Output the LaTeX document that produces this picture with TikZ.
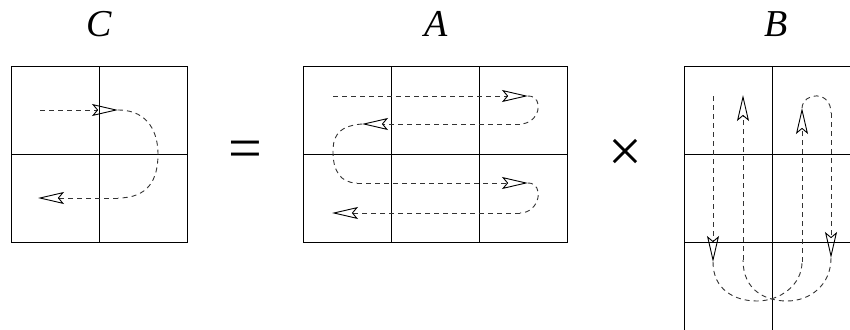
\documentclass[tikz,border=0pt]{standalone}
\usepackage{fontspec}
\setmainfont{Liberation Serif}
\usetikzlibrary{arrows.meta}
\begin{document}
\begin{tikzpicture}[x=1pt,y=-1pt,
  grid/.style={line width=1pt},
  flow/.style={dash pattern=on 5pt off 4pt, line width=0.9pt, black!80},
  tip/.style={-{Stealth[open,length=26pt,width=12pt,inset=5pt,black,line width=0.9pt]}},
  lbl/.style={font=\fontsize{38}{38}\selectfont\itshape, inner sep=0pt},
  sym/.style={font=\fontsize{60}{60}\selectfont, inner sep=0pt}]
\useasboundingbox (0,0) rectangle (850,329);
% labels
\node[lbl] (labC) at (99,24) {C};
\node[lbl] (labA) at (436,24) {A};
\node[lbl] (labB) at (776,24) {B};
\node[sym] (eq) at (245,155) {=};
\node[sym] (times) at (625,155) {×};
% C grid
\draw[grid] (11,66) rectangle (187,242);
\draw[grid] (99,66) -- (99,242) (11,154) -- (187,154);
% A grid
\draw[grid] (303,66) rectangle (567,242);
\draw[grid] (391,66) -- (391,242) (479,66) -- (479,242) (303,154) -- (567,154);
% B grid
\begin{scope}
\clip (0,0) rectangle (850,329);
\draw[grid] (684,66) rectangle (860,330);
\draw[grid] (772,66) -- (772,330) (684,154) -- (860,154) (684,242) -- (860,242);
\end{scope}
% C flow
\draw[flow,tip] (40,110) -- (118,110);
\draw[flow] (118,110) .. controls (150,110) and (158,135) .. (158,154) .. controls (158,180) and (148,198) .. (118,198);
\draw[flow,tip] (118,198) -- (38,198);
% A flow
\draw[flow,tip] (333,96) -- (528,96);
\draw[flow] (528,96) .. controls (545,96) and (540,124) .. (520,124);
\draw[flow,tip] (520,124) -- (362,124);
\draw[flow] (362,124) .. controls (335,126) and (333,140) .. (333,152) .. controls (333,170) and (340,183) .. (357,183);
\draw[flow,tip] (357,183) -- (528,183);
\draw[flow] (528,183) .. controls (545,183) and (540,213) .. (520,213);
\draw[flow,tip] (520,213) -- (332,213);
% B flow
\draw[flow,tip] (713,96) -- (713,262);
\draw[flow] (713,262) .. controls (713,290) and (735,301) .. (757,301) .. controls (780,301) and (802,285) .. (802,262);
\draw[flow,tip] (802,262) -- (802,108);
\draw[flow] (802,108) .. controls (803,92) and (831,90) .. (831,113);
\draw[flow,tip] (831,113) -- (831,258);
\draw[flow] (831,258) .. controls (831,285) and (810,301) .. (787,301) .. controls (765,301) and (743,290) .. (743,260);
\draw[flow,tip] (743,260) -- (743,95);
\end{tikzpicture}
\end{document}
